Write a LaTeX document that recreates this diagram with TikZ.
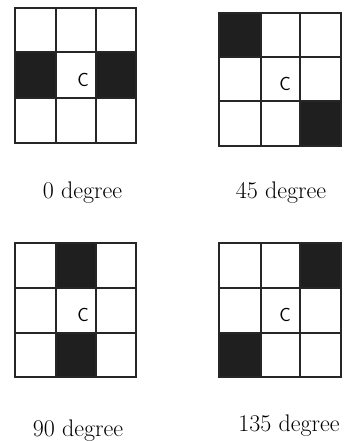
\documentclass[tikz,border=0pt]{standalone}
\begin{document}
\begin{tikzpicture}[x=1pt,y=-1pt,
  gridline/.style={line width=1.3pt,draw=black!85},
  blk/.style={fill=black!88},
  clabel/.style={font=\sffamily\fontsize{19}{19}\selectfont,inner sep=0pt},
  caption/.style={font=\fontsize{24}{24}\selectfont,inner sep=0pt,anchor=base}]
\useasboundingbox (0,0) rectangle (345,441);
% Grid 1: 0 degree
\fill[blk] (15,52) rectangle (56,98);
\fill[blk] (96,52) rectangle (136,98);
\draw[gridline] (15,8) rectangle (136,143);
\draw[gridline] (56,8) -- (56,143) (96,8) -- (96,143) (15,52) -- (136,52) (15,98) -- (136,98);
\node[clabel] (c1) at (83,80) {C};
\node[caption] (t1) at (82.5,198) {0 degree};
% Grid 2: 45 degree
\fill[blk] (219,13) rectangle (261,57);
\fill[blk] (300,101) rectangle (341,146);
\draw[gridline] (219,13) rectangle (341,146);
\draw[gridline] (261,13) -- (261,146) (300,13) -- (300,146) (219,57) -- (341,57) (219,101) -- (341,101);
\node[clabel] (c2) at (285,84) {C};
\node[caption] (t2) at (281,198) {45 degree};
% Grid 3: 90 degree
\fill[blk] (56,243) rectangle (96,288);
\fill[blk] (56,333) rectangle (96,377);
\draw[gridline] (15,243) rectangle (136,377);
\draw[gridline] (56,243) -- (56,377) (96,243) -- (96,377) (15,288) -- (136,288) (15,333) -- (136,333);
\node[clabel] (c3) at (83,315) {C};
\node[caption] (t3) at (78,436) {90 degree};
% Grid 4: 135 degree
\fill[blk] (300,243) rectangle (341,288);
\fill[blk] (219,333) rectangle (261,377);
\draw[gridline] (219,243) rectangle (341,377);
\draw[gridline] (261,243) -- (261,377) (300,243) -- (300,377) (219,288) -- (341,288) (219,333) -- (341,333);
\node[clabel] (c4) at (285,315) {C};
\node[caption] (t4) at (289,431) {135 degree};
\end{tikzpicture}
\end{document}
